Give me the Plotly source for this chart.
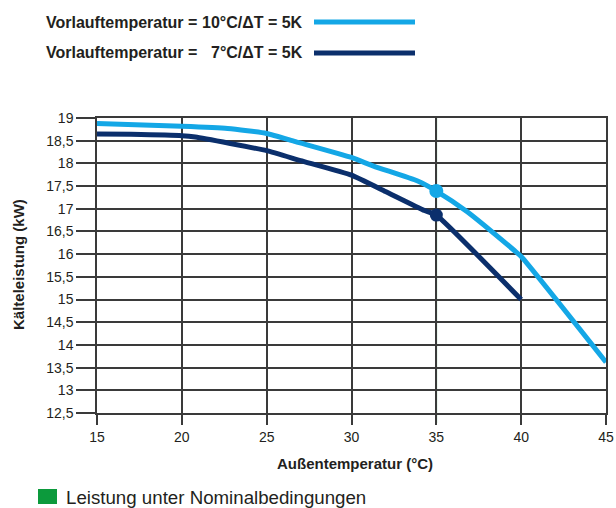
import plotly.graph_objects as go

# --- data ---
temp_10 = [15, 20, 22.7, 25, 26.7, 30, 31.3, 33.9, 35, 36.8, 39.6, 40, 45]
kw_10 = [18.88, 18.82, 18.77, 18.66, 18.48, 18.13, 17.94, 17.61, 17.39, 16.94, 16.08, 15.95, 13.62]
temp_7 = [15, 17, 20, 20.8, 25, 27, 30, 32, 34.3, 35, 40]
kw_7 = [18.65, 18.64, 18.61, 18.58, 18.28, 18.06, 17.74, 17.38, 16.96, 16.86, 15.00]
nominal_temp = 35
nominal_10 = 17.39
nominal_7 = 16.86
label_10_left = "Vorlauftemperatur ="
label_10_right = "10°C/ΔT = 5K"
label_7_left = "Vorlauftemperatur ="
label_7_right = "7°C/ΔT = 5K"
x_title = "Außentemperatur (°C)"
y_title = "Kälteleistung (kW)"
nominal_label = "Leistung unter Nominalbedingungen"

LIGHT = "#14a7e6"
DARK = "#0b2f6c"
GREEN = "#0c9a3c"
GRID = "#3a3a3a"
TXT = "#231f20"
FONT = "Liberation Sans, Arial, Helvetica, sans-serif"

W, H = 616, 508
# plot area in window pixels
L, R, T, B = 97, 606, 118, 413


def px(x):
    return (x - L) / (R - L)


def py(y):
    return (B - y) / (B - T)


fig = go.Figure()
fig.add_trace(go.Scatter(x=temp_10, y=kw_10, mode="lines",
                         line=dict(color=LIGHT, width=5, shape="spline", smoothing=0.5),
                         showlegend=False))
fig.add_trace(go.Scatter(x=temp_7, y=kw_7, mode="lines",
                         line=dict(color=DARK, width=5, shape="spline", smoothing=0.4),
                         showlegend=False))
fig.add_trace(go.Scatter(x=[nominal_temp], y=[nominal_10], mode="markers",
                         marker=dict(color=LIGHT, size=14), showlegend=False))
fig.add_trace(go.Scatter(x=[nominal_temp], y=[nominal_7], mode="markers",
                         marker=dict(color=DARK, size=13), showlegend=False))

# green nominal line
fig.add_shape(type="line", xref="x", yref="paper", x0=nominal_temp, x1=nominal_temp,
              y0=py(423), y1=1, line=dict(color=GREEN, width=1.5), layer="below")

# legend lines
fig.add_shape(type="line", xref="paper", yref="paper", x0=px(314), x1=px(415),
              y0=py(22), y1=py(22), line=dict(color=LIGHT, width=5))
fig.add_shape(type="line", xref="paper", yref="paper", x0=px(314), x1=px(415),
              y0=py(53), y1=py(53), line=dict(color=DARK, width=5))
# bottom legend square
fig.add_shape(type="rect", xref="paper", yref="paper", x0=px(38), x1=px(57),
              y0=py(504), y1=py(489), fillcolor=GREEN, line=dict(width=0))

ann = []
lf = dict(family=FONT, size=16, color=TXT)
for yy, lt, rt in [(22, label_10_left, label_10_right), (53, label_7_left, label_7_right)]:
    ann.append(dict(text="<b>" + lt + "</b>", x=px(44), y=py(yy), xref="paper", yref="paper",
                    xanchor="left", yanchor="middle", showarrow=False, font=lf))
    ann.append(dict(text="<b>" + rt + "</b>", x=px(305), y=py(yy), xref="paper", yref="paper",
                    xanchor="right", yanchor="middle", showarrow=False, font=lf))
ann.append(dict(text="<b>" + x_title + "</b>", x=px(355), y=py(463), xref="paper", yref="paper",
                xanchor="center", yanchor="middle", showarrow=False,
                font=dict(family=FONT, size=15, color=TXT)))
ann.append(dict(text="<b>" + y_title + "</b>", x=px(18), y=py(265), xref="paper", yref="paper",
                xanchor="center", yanchor="middle", showarrow=False, textangle=-90,
                font=dict(family=FONT, size=15, color=TXT)))
ann.append(dict(text=nominal_label, x=px(64), y=py(497), xref="paper", yref="paper",
                xanchor="left", yanchor="middle", showarrow=False,
                font=dict(family=FONT, size=18.7, color=TXT)))

fig.update_layout(
    width=W, height=H,
    margin=dict(l=L, r=W - R, t=T, b=H - B, pad=0, autoexpand=False),
    paper_bgcolor="white", plot_bgcolor="white",
    separators=",.",
    annotations=ann,
    font=dict(family=FONT, size=14, color=TXT),
    xaxis=dict(range=[15, 45], dtick=5, tick0=15, showgrid=True, gridcolor=GRID, gridwidth=1.5,
               ticks="outside", ticklen=10, tickwidth=1.5, tickcolor=GRID, automargin=False,
               showline=True, mirror=True, linecolor=GRID, linewidth=1.5, zeroline=False,
               tickfont=dict(family=FONT, size=14, color=TXT)),
    yaxis=dict(range=[12.5, 19], dtick=0.5, tick0=12.5, showgrid=True, gridcolor=GRID, gridwidth=1.5,
               ticks="outside", ticklen=19, tickwidth=1.5, tickcolor=GRID, automargin=False,
               showline=True, mirror=True, linecolor=GRID, linewidth=1.5, zeroline=False,
               tickfont=dict(family=FONT, size=14, color=TXT)),
)

fig.write_html(
    "out.html",
    config={"displayModeBar": False},
    post_script="document.body.style.margin='0';document.body.style.overflow='hidden';",
)
